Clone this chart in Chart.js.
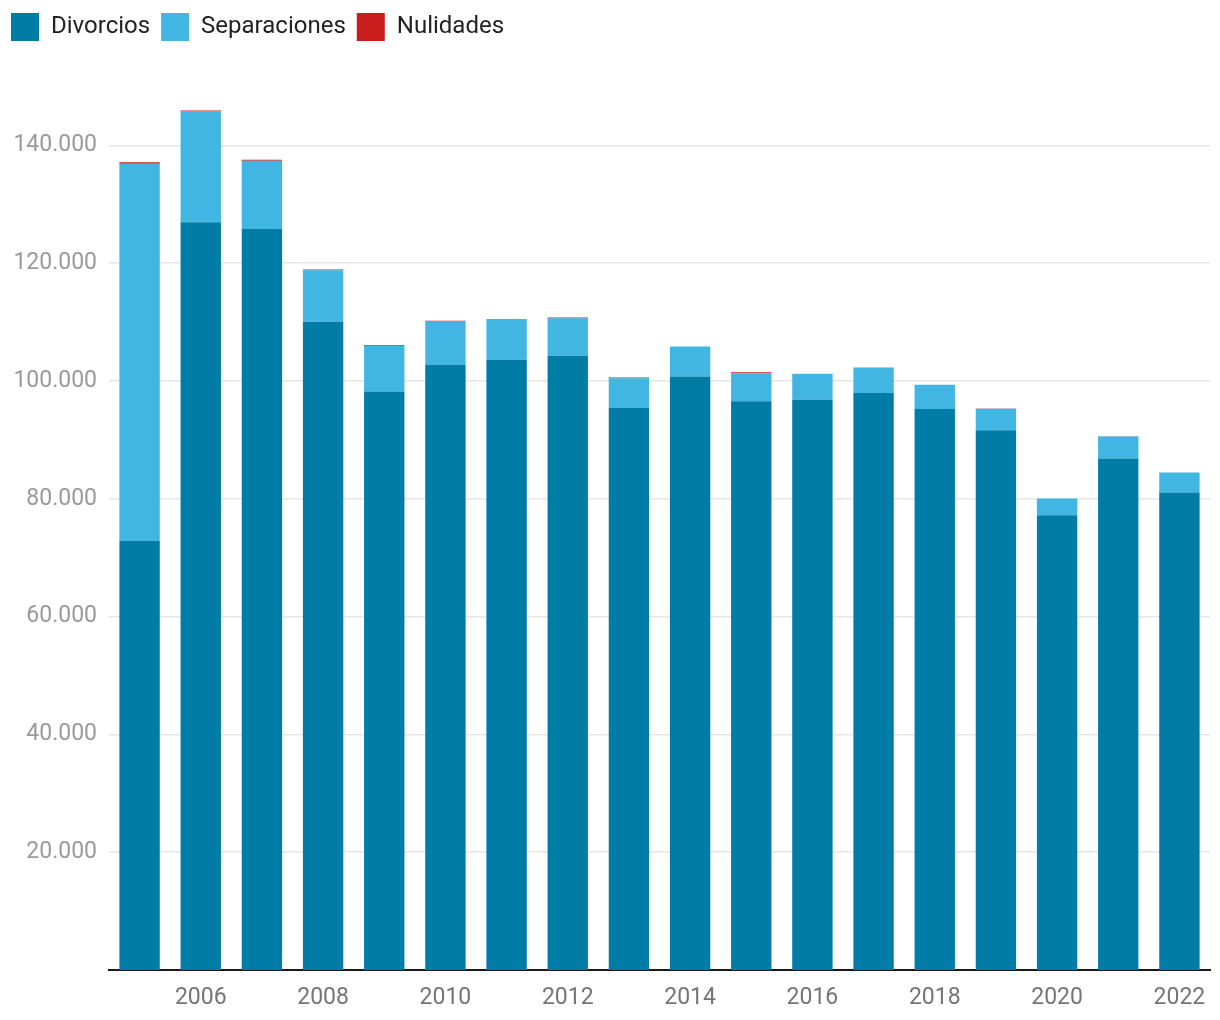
<!DOCTYPE html>
<html>
<head>
<meta charset="utf-8">
<script src="https://cdn.jsdelivr.net/npm/chart.js@4.4.1/dist/chart.umd.min.js"></script>
<style>
  html, body { margin: 0; padding: 0; background: #fff; }
  #wrap { position: relative; width: 1220px; height: 1020px; }
</style>
</head>
<body>
<div id="wrap"><canvas id="chart"></canvas></div>
<script>
// Datos: divorcios, separaciones y nulidades por año
const years = ['2005', '2006', '2007', '2008', '2009', '2010', '2011', '2012', '2013',
               '2014', '2015', '2016', '2017', '2018', '2019', '2020', '2021', '2022'];
const divorcios = [72848, 126952, 125777, 110036, 98207, 102690, 103604, 104262, 95427,
                   100746, 96562, 96824, 97960, 95254, 91645, 77200, 86851, 81044];
const separaciones = [64028, 18793, 11600, 8743, 7732, 7500, 6915, 6369, 5034,
                      5100, 4730, 4400, 4300, 4100, 3650, 2850, 3733, 3409];
const nulidades = [253, 182, 164, 160, 127, 20, 20, 133, 137,
                   20, 170, 20, 20, 20, 15, 15, 15, 15];
const yTicks = [20000, 40000, 60000, 80000, 100000, 120000, 140000];

const font = "Roboto, 'Noto Sans', sans-serif";

// separacion extra bajo la leyenda
const legendMargin = {
    id: 'legendMargin',
    beforeInit(chart) {
        const orig = chart.legend.fit;
        chart.legend.fit = function () {
            orig.bind(chart.legend)();
            this.height += 59;
        };
    }
};

new Chart(document.getElementById('chart'), {
    type: 'bar',
    data: {
        labels: years,
        datasets: [
            { label: 'Divorcios', data: divorcios, backgroundColor: '#007ca6' },
            { label: 'Separaciones', data: separaciones, backgroundColor: '#41b6e2' },
            { label: 'Nulidades', data: nulidades, backgroundColor: '#c91d1d' }
        ]
    },
    options: {
        responsive: true,
        maintainAspectRatio: false,
        animation: false,
        layout: { padding: { left: 0, right: 10, top: 2, bottom: 0 } },
        datasets: {
            bar: { categoryPercentage: 1, barPercentage: 0.66, borderWidth: 0 }
        },
        scales: {
            x: {
                stacked: true,
                afterFit: function (scale) { scale.height = 50; },
                grid: { display: false },
                border: { color: '#1a1a1a', width: 2 },
                ticks: {
                    autoSkip: false,
                    maxRotation: 0,
                    padding: 6,
                    color: '#757575',
                    font: { family: font, size: 23 },
                    callback: function (value) {
                        const y = years[value];
                        return Number(y) % 2 === 0 ? y : '';
                    }
                }
            },
            y: {
                stacked: true,
                min: 0,
                max: 146000,
                afterFit: function (scale) { scale.width = 109; },
                afterBuildTicks: function (scale) {
                    scale.ticks = yTicks.map(v => ({ value: v }));
                },
                grid: { color: '#e6e6e6', lineWidth: 1.5, drawTicks: false },
                border: { display: false },
                ticks: {
                    padding: 12,
                    color: '#9a9a9a',
                    font: { family: font, size: 23 },
                    callback: function (value) {
                        return value.toLocaleString('de-DE');
                    }
                }
            }
        },
        plugins: {
            legend: {
                position: 'top',
                align: 'start',
                labels: {
                    boxWidth: 28,
                    boxHeight: 28,
                    padding: 11,
                    color: '#222',
                    font: { family: font, size: 24 }
                }
            },
            tooltip: { enabled: false }
        }
    },
    plugins: [legendMargin]
});
</script>
</body>
</html>
